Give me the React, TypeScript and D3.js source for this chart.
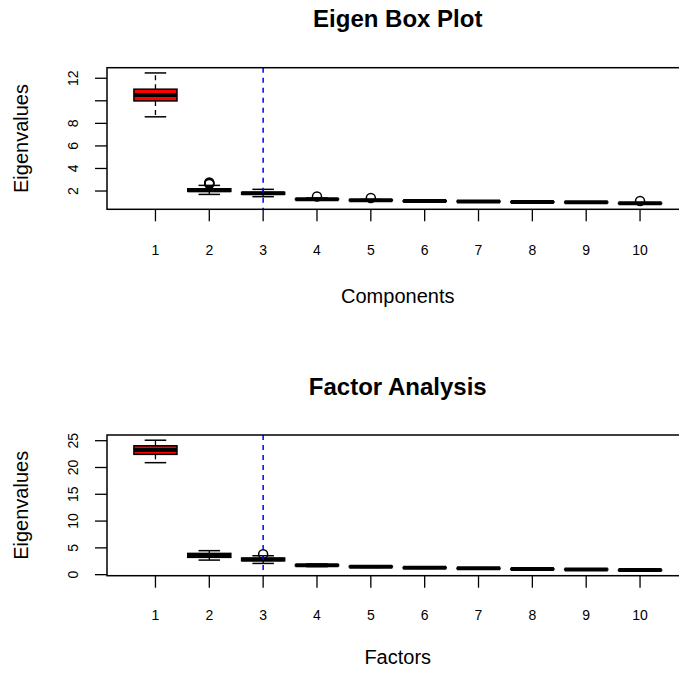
import * as d3 from "d3";

// component positions on the x axis
const components = [1, 2, 3, 4, 5, 6, 7, 8, 9, 10];

// Eigen Box Plot: five-number summaries + outliers
const eigenLow = [8.58, 1.7, 1.5, 1.2, 1.12, 1.06, 1.03, 0.98, 0.95, 0.845];
const eigenQ1 = [9.99, 1.97, 1.72, 1.24, 1.16, 1.09, 1.06, 1.01, 0.98, 0.89];
const eigenMed = [10.52, 2.07, 1.8, 1.27, 1.18, 1.11, 1.08, 1.03, 1.0, 0.91];
const eigenQ3 = [11.03, 2.2, 1.88, 1.3, 1.21, 1.13, 1.1, 1.05, 1.02, 0.93];
const eigenHigh = [12.47, 2.5, 2.15, 1.38, 1.25, 1.16, 1.13, 1.08, 1.05, 0.97];
const eigenOutliers = [[], [2.62, 2.7, 2.75], [], [1.52], [1.38], [], [], [], [], [1.11]];
const eigenTicks = [2, 4, 6, 8, 10, 12];
const eigenTickLabels = ["2", "4", "6", "8", "", "12"];

// Factor Analysis
const factorLow = [20.9, 2.72, 2.1, 1.5, 1.35, 1.18, 1.06, 0.94, 0.88, 0.78];
const factorQ1 = [22.45, 3.23, 2.6, 1.65, 1.45, 1.26, 1.14, 1.0, 0.94, 0.82];
const factorMed = [23.25, 3.6, 2.85, 1.75, 1.5, 1.3, 1.18, 1.04, 0.98, 0.85];
const factorQ3 = [24.05, 3.97, 3.1, 1.85, 1.55, 1.34, 1.22, 1.08, 1.02, 0.88];
const factorHigh = [25.09, 4.48, 3.53, 2.0, 1.65, 1.42, 1.3, 1.14, 1.08, 0.93];
const factorOutliers = [[], [], [3.8], [], [], [], [], [], [], []];
const factorTicks = [0, 5, 10, 15, 20, 25];
const factorTickLabels = ["0", "5", "10", "15", "20", "25"];

const cutoff = 3;

const FONT = "'Liberation Sans', Arial, Helvetica, sans-serif";
const W = 679;
const H = 674;
const LEFT = 107;
const RIGHT = 688.5;

type PanelProps = {
  title: string;
  xTitle: string;
  low: number[];
  q1: number[];
  med: number[];
  q3: number[];
  high: number[];
  outliers: number[][];
  ticks: number[];
  tickLabels: string[];
  top: number;
  bottom: number;
  titleY: number;
  tickLabelY: number;
  xTitleY: number;
};

const Panel = (p: PanelProps) => {
  const x = d3.scaleLinear().domain([0.1, 10.9]).range([LEFT, RIGHT]);
  const allVals = [...p.low, ...p.high, ...p.outliers.flat()];
  const [mn, mx] = d3.extent(allVals) as [number, number];
  const pad = (mx - mn) * 0.04;
  const y = d3.scaleLinear().domain([mn - pad, mx + pad]).range([p.bottom, p.top]);
  const unit = x(2) - x(1);
  const boxW = unit * 0.8;
  const capW = boxW * 0.5;
  const midX = (LEFT + RIGHT) / 2;
  const midY = (p.top + p.bottom) / 2;

  return (
    <g>
      <text x={midX} y={p.titleY} textAnchor="middle" fontSize={24} fontWeight="bold" fontFamily={FONT}>
        {p.title}
      </text>
      {components.map((c, i) => {
        const cx = x(c);
        return (
          <g key={c}>
            <line x1={cx} x2={cx} y1={y(p.q3[i])} y2={y(p.high[i])} stroke="#000" strokeWidth={1.3} strokeDasharray="5,4" />
            <line x1={cx} x2={cx} y1={y(p.q1[i])} y2={y(p.low[i])} stroke="#000" strokeWidth={1.3} strokeDasharray="5,4" />
            <line x1={cx - capW / 2} x2={cx + capW / 2} y1={y(p.high[i])} y2={y(p.high[i])} stroke="#000" strokeWidth={1.5} />
            <line x1={cx - capW / 2} x2={cx + capW / 2} y1={y(p.low[i])} y2={y(p.low[i])} stroke="#000" strokeWidth={1.5} />
            <rect
              x={cx - boxW / 2}
              y={y(p.q3[i])}
              width={boxW}
              height={Math.max(0.5, y(p.q1[i]) - y(p.q3[i]))}
              fill={i === 0 ? "#FF0000" : "#fff"}
              stroke="#000"
              strokeWidth={1.5}
            />
            <line x1={cx - boxW / 2} x2={cx + boxW / 2} y1={y(p.med[i])} y2={y(p.med[i])} stroke="#000" strokeWidth={4} />
            {p.outliers[i].map((o, j) => (
              <circle key={j} cx={cx} cy={y(o)} r={4.5} fill="none" stroke="#000" strokeWidth={1.5} />
            ))}
          </g>
        );
      })}
      <line x1={x(cutoff)} x2={x(cutoff)} y1={p.top} y2={p.bottom} stroke="#0000FF" strokeWidth={1.5} strokeDasharray="5,5" />
      <rect x={LEFT} y={p.top} width={RIGHT - LEFT} height={p.bottom - p.top} fill="none" stroke="#000" strokeWidth={1.5} />
      {components.map((c) => (
        <g key={"xt" + c}>
          <line x1={x(c)} x2={x(c)} y1={p.bottom} y2={p.bottom + 12} stroke="#000" strokeWidth={1.3} />
          <text x={x(c)} y={p.tickLabelY} textAnchor="middle" fontSize={14} fontFamily={FONT}>
            {c}
          </text>
        </g>
      ))}
      {p.ticks.map((t, i) => (
        <g key={"yt" + t}>
          <line x1={LEFT - 12} x2={LEFT} y1={y(t)} y2={y(t)} stroke="#000" strokeWidth={1.3} />
          <text transform={`translate(78,${y(t)}) rotate(-90)`} textAnchor="middle" fontSize={14} fontFamily={FONT}>
            {p.tickLabels[i]}
          </text>
        </g>
      ))}
      <text x={midX} y={p.xTitleY} textAnchor="middle" fontSize={20} fontFamily={FONT}>
        {p.xTitle}
      </text>
      <text transform={`translate(28,${midY}) rotate(-90)`} textAnchor="middle" fontSize={20} fontFamily={FONT}>
        Eigenvalues
      </text>
    </g>
  );
};

export default function App() {
  return (
    <svg width={W} height={H} style={{ position: "absolute", left: 0, top: 0, background: "#fff" }}>
      <rect width={W} height={H} fill="#fff" />
      <Panel
        title="Eigen Box Plot"
        xTitle="Components"
        low={eigenLow}
        q1={eigenQ1}
        med={eigenMed}
        q3={eigenQ3}
        high={eigenHigh}
        outliers={eigenOutliers}
        ticks={eigenTicks}
        tickLabels={eigenTickLabels}
        top={67.7}
        bottom={209.3}
        titleY={27}
        tickLabelY={255}
        xTitleY={303}
      />
      <Panel
        title="Factor Analysis"
        xTitle="Factors"
        low={factorLow}
        q1={factorQ1}
        med={factorMed}
        q3={factorQ3}
        high={factorHigh}
        outliers={factorOutliers}
        ticks={factorTicks}
        tickLabels={factorTickLabels}
        top={435}
        bottom={575.7}
        titleY={395}
        tickLabelY={620}
        xTitleY={664}
      />
    </svg>
  );
}
